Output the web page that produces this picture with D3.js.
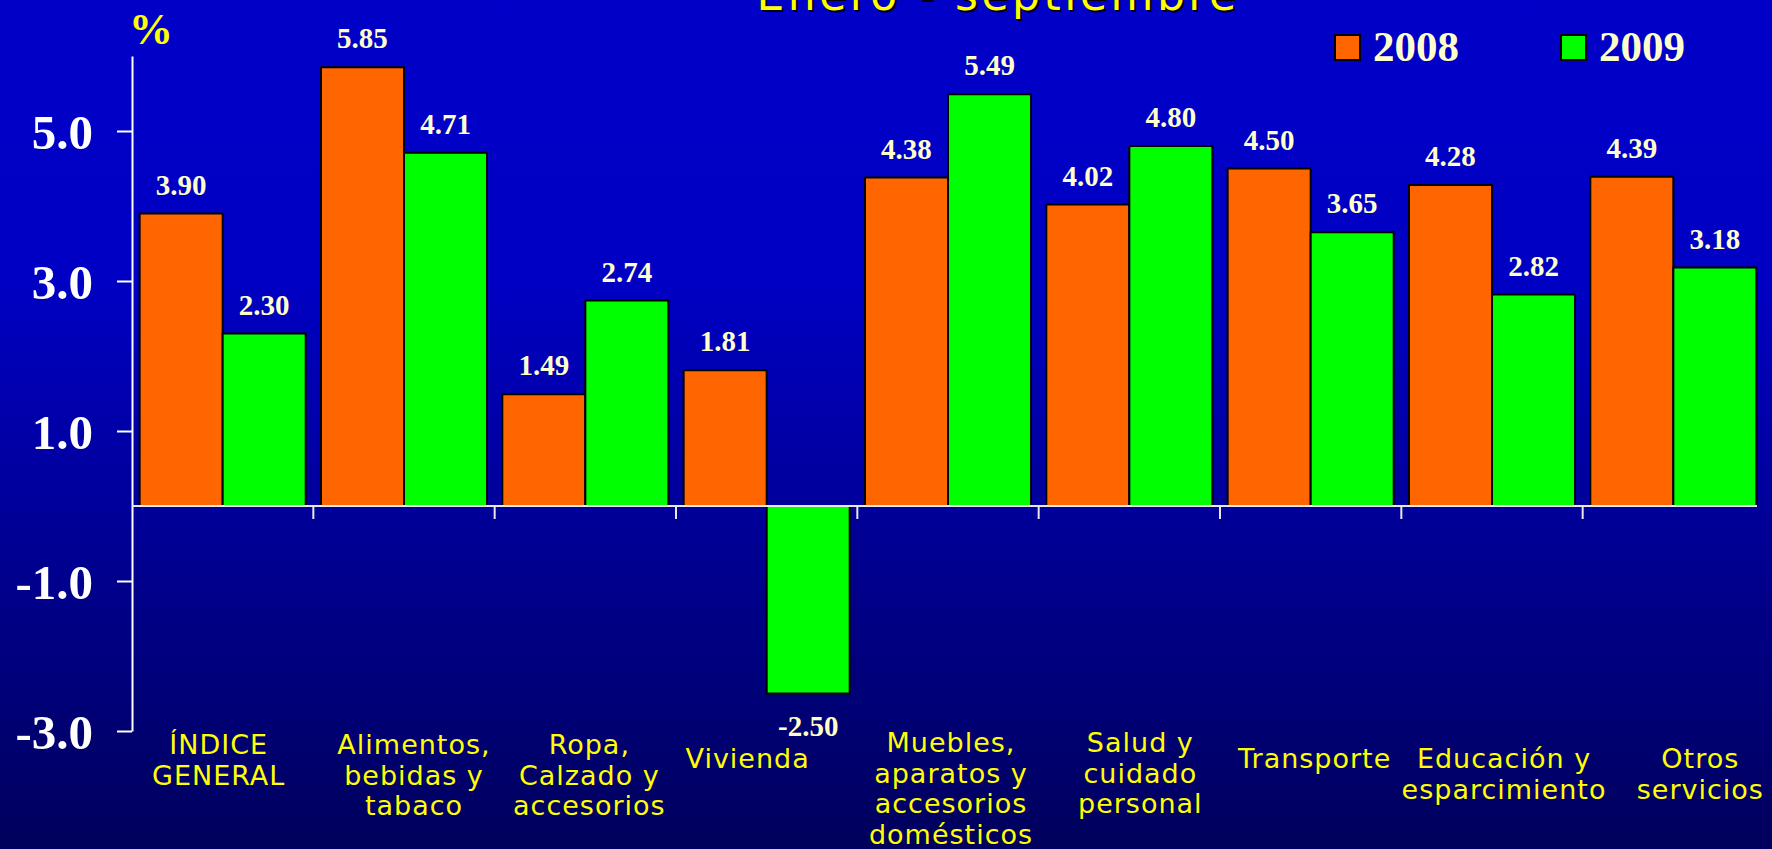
<!DOCTYPE html>
<html>
<head>
<meta charset="utf-8">
<script src="https://cdn.jsdelivr.net/npm/d3@7"></script>
<style>
  html, body { margin: 0; padding: 0; background: #00005C; overflow: hidden; }
  svg { display: block; }
</style>
</head>
<body>
<svg id="chart" width="1772" height="849"></svg>
<script>
// ---------- DATA ----------
const categories = [
  "ÍNDICE GENERAL",
  "Alimentos, bebidas y tabaco",
  "Ropa, Calzado y accesorios",
  "Vivienda",
  "Muebles, aparatos y accesorios domésticos",
  "Salud y cuidado personal",
  "Transporte",
  "Educación y esparcimiento",
  "Otros servicios"
];
const categoryLines = [
  ["ÍNDICE", "GENERAL"],
  ["Alimentos,", "bebidas y", "tabaco"],
  ["Ropa,", "Calzado y", "accesorios"],
  ["Vivienda"],
  ["Muebles,", "aparatos y", "accesorios", "domésticos"],
  ["Salud y", "cuidado", "personal"],
  ["Transporte"],
  ["Educación y", "esparcimiento"],
  ["Otros", "servicios"]
];
const seriesNames = ["2008", "2009"];
const values2008 = [3.90, 5.85, 1.49, 1.81, 4.38, 4.02, 4.50, 4.28, 4.39];
const values2009 = [2.30, 4.71, 2.74, -2.50, 5.49, 4.80, 3.65, 2.82, 3.18];
const yTickValues = [-3, -1, 1, 3, 5];
const titleText = "Enero - septiembre";
const unitText = "%";

// ---------- LAYOUT (positions / styles, not data) ----------
const W = 1772, H = 849;
const plot = { left: 132, right: 1764, top: 56, bottom: 731 };
const colors = { "2008": "#FF6600", "2009": "#00FF00" };
const labelFirstBaseline = [754, 754, 754, 768, 752, 752, 768, 768, 768];
const labelDx = [-4, 10, 4, -19, 3, 11, 4, 12, 27];
const labelLineH = 30.5;

const hyphenFmt = f => v => f(v).replace("\u2212", "-");

const svg = d3.select("#chart");

// background gradient
const defs = svg.append("defs");
const grad = defs.append("linearGradient").attr("id", "bg")
  .attr("x1", 0).attr("y1", 0).attr("x2", 0).attr("y2", 1);
grad.append("stop").attr("offset", "0%").attr("stop-color", "#0000C8");
grad.append("stop").attr("offset", "33%").attr("stop-color", "#0000C4");
grad.append("stop").attr("offset", "100%").attr("stop-color", "#00005C");
svg.append("rect").attr("width", W).attr("height", H).attr("fill", "url(#bg)");

// scales
const y = d3.scaleLinear().domain([-3, 6]).range([plot.bottom, plot.top]);
const x0 = d3.scaleBand().domain(categories).range([plot.left, plot.right]).paddingInner(0).paddingOuter(0);
const x1 = d3.scaleBand().domain(seriesNames).range([0, x0.bandwidth()]).paddingInner(0).paddingOuter(0.092);

const rows = categories.map((c, i) => ({
  cat: c, i,
  vals: [{ s: "2008", v: values2008[i] }, { s: "2009", v: values2009[i] }]
}));

// title (partially cut off at top, as in the reference)
const title = svg.append("g");
title.append("text")
  .attr("x", 1000).attr("y", 12)
  .attr("text-anchor", "middle")
  .attr("font-family", "DejaVu Sans, Verdana, sans-serif")
  .attr("font-size", 44).attr("letter-spacing", 3.5)
  .attr("fill", "#000000")
  .text(titleText);
title.append("text")
  .attr("x", 998).attr("y", 10)
  .attr("text-anchor", "middle")
  .attr("font-family", "DejaVu Sans, Verdana, sans-serif")
  .attr("font-size", 44).attr("letter-spacing", 3.5)
  .attr("fill", "#FFFF00")
  .text(titleText);

// unit label
svg.append("text")
  .attr("x", 151).attr("y", 44)
  .attr("text-anchor", "middle")
  .attr("font-family", "Liberation Serif, Times New Roman, serif")
  .attr("font-weight", "bold").attr("font-size", 44)
  .attr("fill", "#FFFF00")
  .text(unitText);

// bars
const groups = svg.append("g").selectAll("g").data(rows).join("g")
  .attr("transform", d => `translate(${x0(d.cat)},0)`);

groups.selectAll("rect").data(d => d.vals).join("rect")
  .attr("x", d => x1(d.s))
  .attr("y", d => y(Math.max(0, d.v)))
  .attr("width", x1.bandwidth())
  .attr("height", d => Math.abs(y(d.v) - y(0)))
  .attr("fill", d => colors[d.s])
  .attr("stroke", "#000")
  .attr("stroke-width", 2);

// value labels
const valFmt = hyphenFmt(d3.format(".2f"));
groups.selectAll("text.val").data(d => d.vals).join("text")
  .attr("class", "val")
  .attr("x", d => x1(d.s) + x1.bandwidth() / 2)
  .attr("y", d => d.v >= 0 ? y(d.v) - 19 : y(d.v) + 42)
  .attr("text-anchor", "middle")
  .attr("font-family", "Liberation Serif, Times New Roman, serif")
  .attr("font-weight", "bold").attr("font-size", 29)
  .attr("fill", "#FFFFCC")
  .text(d => valFmt(d.v));

// y axis
const yAxis = d3.axisLeft(y)
  .tickValues(yTickValues)
  .tickFormat(hyphenFmt(d3.format(".1f")))
  .tickSize(15).tickSizeOuter(0).tickPadding(24);
const yg = svg.append("g").attr("transform", `translate(${plot.left},0)`).call(yAxis);
yg.select(".domain").attr("stroke", "#FFFFFF").attr("stroke-width", 2);
yg.selectAll(".tick line").attr("stroke", "#FFFFFF").attr("stroke-width", 2);
yg.selectAll(".tick text")
  .attr("font-family", "Liberation Serif, Times New Roman, serif")
  .attr("font-weight", "bold").attr("font-size", 49)
  .attr("fill", "#FFFFFF").attr("dy", "0.35em");

// x axis at zero
const xg = svg.append("g");
xg.append("line")
  .attr("x1", plot.left).attr("x2", plot.right - 7)
  .attr("y1", y(0)).attr("y2", y(0))
  .attr("stroke", "#E8E8E8").attr("stroke-width", 2);
xg.selectAll("line.xt").data(categories.slice(1)).join("line")
  .attr("class", "xt")
  .attr("x1", d => x0(d)).attr("x2", d => x0(d))
  .attr("y1", y(0)).attr("y2", y(0) + 13)
  .attr("stroke", "#E8E8E8").attr("stroke-width", 2);

// category labels
const lab = svg.append("g").selectAll("text").data(rows).join("text")
  .attr("text-anchor", "middle")
  .attr("font-family", "DejaVu Sans, Verdana, sans-serif")
  .attr("font-size", 27).attr("letter-spacing", 1)
  .attr("fill", "#FFFF00");
lab.each(function(d) {
  const t = d3.select(this);
  const cx = x0(d.cat) + x0.bandwidth() / 2 + labelDx[d.i];
  categoryLines[d.i].forEach((ln, k) => {
    t.append("tspan")
      .attr("x", cx)
      .attr("y", labelFirstBaseline[d.i] + k * labelLineH)
      .text(ln);
  });
});

// legend
const legX = [1335, 1561];
const leg = svg.append("g").selectAll("g").data(seriesNames).join("g")
  .attr("transform", (d, i) => `translate(${legX[i]},35)`);
leg.append("rect").attr("width", 25).attr("height", 25)
  .attr("fill", d => colors[d]).attr("stroke", "#000").attr("stroke-width", 2);
leg.append("text").attr("x", 38).attr("y", 26)
  .attr("font-family", "Liberation Serif, Times New Roman, serif")
  .attr("font-weight", "bold").attr("font-size", 43)
  .attr("fill", "#FFFFCC")
  .text(d => d);
</script>
</body>
</html>
